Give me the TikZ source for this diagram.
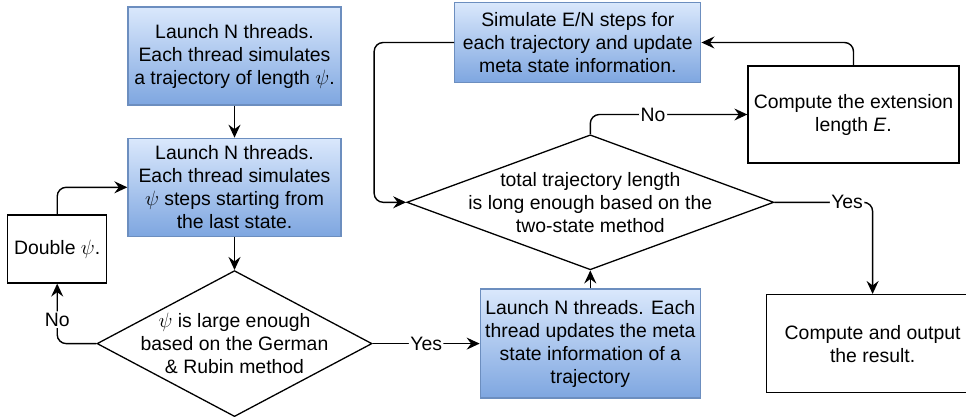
\documentclass[tikz,border=0pt]{standalone}
\usepackage{fontspec}
\setmainfont{Liberation Sans}
\usetikzlibrary{arrows.meta,shapes.geometric,positioning}
\definecolor{boxtop}{HTML}{DAE8FC}
\definecolor{boxbottom}{HTML}{7EA6E0}
\definecolor{boxline}{HTML}{6C8EBF}

\begin{document}
\begin{tikzpicture}[x = 1pt, y = -1pt, font = \fontsize{19.4}{23}\selectfont]
  \tikzset{block/.style = {shape = rectangle, align = center, inner sep = 0pt, line width = 1.3pt}}
  \tikzset{thread/.style = {block, top color = boxtop, bottom color = boxbottom, draw = boxline}}
  \tikzset{plain/.style = {block, draw = black}}
  \tikzset{decision/.style = {diamond, draw = black, line width = 1.3pt, inner sep = 0pt}}
  \tikzset{flow/.style = {line width = 1.4pt, rounded corners = 9pt, -{Stealth[length = 13pt, width = 12pt, inset = 4.5pt]}}}
  \tikzset{answer/.style = {fill = white, inner sep = 1.5pt}}

  \useasboundingbox (0,0) rectangle (966,416);

  % left column
  \node[thread, minimum width = 213pt, minimum height = 98pt] (Init) at (234.5,56)
    {Launch N threads.\\Each thread simulates\\a trajectory of length $\psi$.};
  \node[thread, minimum width = 213pt, minimum height = 98pt, below = 32pt of Init] (Burn)
    {Launch N threads.\\Each thread simulates\\$\psi$ steps starting from\\the last state.};
  \node[plain, minimum width = 99pt, minimum height = 68pt, below left = 27pt and 20pt of Burn.west] (Double)
    {Double $\psi$.};
  \node[decision, minimum width = 275pt, minimum height = 146pt, below = 33pt of Burn] (GR) {};
  \node[align = center] (GRtext) at (GR) {$\psi$ is large enough\\based on the German\\\& Rubin method};

  % right part
  \node[thread, minimum width = 220pt, minimum height = 109pt, right = 107pt of GR] (Meta)
    {Launch N threads. Each\\thread updates the meta\\state information of a\\trajectory};
  \node[decision, minimum width = 367pt, minimum height = 135pt, above = 18pt of Meta] (TS) {};
  \node[align = center] (TStext) at (TS) {total trajectory length\\is long enough based on the\\two-state method};
  \node[thread, minimum width = 246pt, minimum height = 80pt, above = 51pt of TS, xshift = -12.5pt] (Extend)
    {Simulate E/N steps for\\each trajectory and update\\meta state information.};
  \node[plain, minimum width = 211pt, minimum height = 97pt] (Ext) at (853.5,114.5)
    {Compute the extension\\length \textit{E}.};
  \node[plain, minimum width = 212pt, minimum height = 98pt, right = 65pt of Meta] (Out)
    {Compute and output\\the result.};

  % connectors
  \draw[flow] (Init) -- (Burn);
  \draw[flow] (Burn) -- (GR);
  \draw[flow] (GR.west) -| (Double.south) node[answer, pos = 0.7] {No};
  \draw[flow] (Double.north) |- (Burn.west);
  \draw[flow] (GR.east) -- (Meta.west |- GR.east) node[answer, pos = 0.5] {Yes};
  \draw[flow] (Meta.north) -- (Meta.north |- TS.south);
  \draw[flow] (TS.north) |- (Ext.west) node[answer, pos = 0.7] {No};
  \draw[flow] (Ext.north) |- (Extend.east);
  \draw[flow] (Extend.west) -- ++(-80,0) |- (TS.west);
  \draw[flow] (TS.east) -| (Out.north) node[answer, pos = 0.37] {Yes};

\end{tikzpicture}
\end{document}
